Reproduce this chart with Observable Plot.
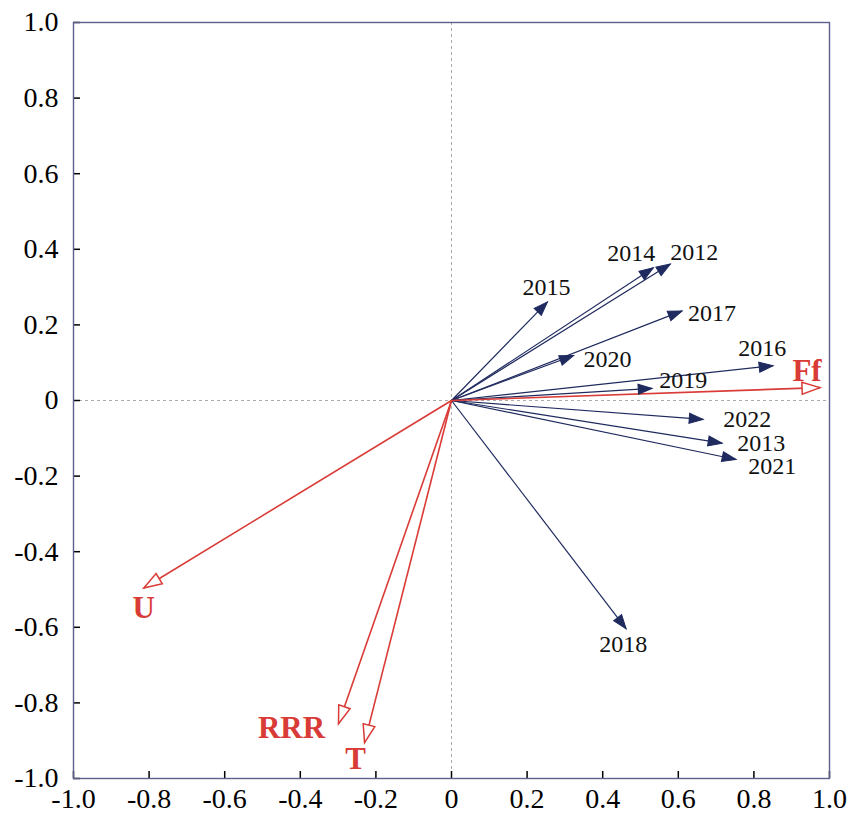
<!DOCTYPE html>
<html><head><meta charset="utf-8">
<script src="https://cdn.jsdelivr.net/npm/d3@7"></script>
<script src="https://cdn.jsdelivr.net/npm/@observablehq/plot@0.6"></script>
<style>
body{margin:0;background:#fff}
svg{display:block}
#chart svg, #chart svg text { font-family: "Liberation Serif", "Times New Roman", Times, serif !important; }
</style>
</head><body><div id="chart"></div>
<script>
// ---- data ----
const years   = ["2012","2013","2014","2015","2016","2017","2018","2019","2020","2021","2022"];
const yearX   = [0.579, 0.716, 0.534, 0.254, 0.851, 0.610, 0.462, 0.531, 0.323, 0.753, 0.666];
const yearY   = [0.361,-0.113, 0.351, 0.261, 0.092, 0.237,-0.604, 0.032, 0.119,-0.156,-0.050];
const factors = ["Ff","U","RRR","T"];
const factorX = [0.975,-0.814,-0.299,-0.230];
const factorY = [0.034,-0.496,-0.855,-0.905];
const tickValues = [-1,-0.8,-0.6,-0.4,-0.2,0,0.2,0.4,0.6,0.8,1];
const tickLabels = ["-1.0","-0.8","-0.6","-0.4","-0.2","0","0.2","0.4","0.6","0.8","1.0"];

// ---- layout / style ----
const blue = "#1f2a5e", red = "#d93b36";
const labelOffset = {
  "2012":[24,-12],"2014":[-22,-15],"2015":[-1,-15],"2017":[30,2],"2020":[34,4],
  "2016":[-11,-17],"2019":[31,-8],"2022":[44,0],"2013":[39,0],"2021":[36,7],"2018":[-3,16],
  "Ff":[-13,-17],"U":[0,20],"RRR":[-47,4],"T":[-9,16]
};
const yearRows = years.map((name,i)=>({name, x:yearX[i], y:yearY[i]}));
const factorRows = factors.map((name,i)=>({name, x:factorX[i], y:factorY[i]}));
const angle = d => Math.atan2(d.x, d.y) * 180 / Math.PI;
const head = (L, w) => ({draw(ctx){ ctx.moveTo(0,0); ctx.lineTo(-w,L); ctx.lineTo(w,L); ctx.closePath(); }});
const fmt = d => tickLabels[tickValues.indexOf(d)];

const marks = [
  Plot.ruleX([0], {stroke:"#aaa", strokeDasharray:"3,3"}),
  Plot.ruleY([0], {stroke:"#aaa", strokeDasharray:"3,3"}),
  Plot.axisX({ticks:tickValues, tickFormat:fmt, tickSize:0, tickPadding:10, fontSize:28, label:null, fill:"#000"}),
  Plot.axisX({ticks:tickValues, tickSize:-7, text:null, label:null, stroke:"#000", strokeWidth:1.5}),
  Plot.axisY({ticks:tickValues, tickFormat:fmt, tickSize:0, tickPadding:15, fontSize:28, label:null, fill:"#000"}),
  Plot.axisY({ticks:tickValues, tickSize:-7, text:null, label:null, stroke:"#000", strokeWidth:1.5}),
  Plot.link(yearRows, {x1:0, y1:0, x2:"x", y2:"y", stroke:blue, strokeWidth:1.2}),
  Plot.link(factorRows, {x1:0, y1:0, x2:"x", y2:"y", stroke:red, strokeWidth:1.6}),
  Plot.dot(yearRows, {x:"x", y:"y", rotate:angle, symbol:head(14,5), fill:blue, stroke:blue, strokeWidth:1}),
  Plot.dot(factorRows, {x:"x", y:"y", rotate:angle, symbol:head(18,6), fill:"white", stroke:red, strokeWidth:1.5}),
  ...yearRows.map(d => Plot.text([d], {x:"x", y:"y", text:"name", dx:labelOffset[d.name][0], dy:labelOffset[d.name][1],
      fontSize:24, fill:"#111", textAnchor:"middle", lineAnchor:"middle"})),
  ...factorRows.map(d => Plot.text([d], {x:"x", y:"y", text:"name", dx:labelOffset[d.name][0], dy:labelOffset[d.name][1],
      fontSize:31, fontWeight:"bold", fill:red, textAnchor:"middle", lineAnchor:"middle"})),
  Plot.frame({stroke:"#5a5f8c", strokeWidth:1.4})
];

const chart = Plot.plot({
  width:856, height:813,
  marginLeft:73, marginRight:27, marginTop:22, marginBottom:35,
  x:{domain:[-1,1]}, y:{domain:[-1,1]},
  style:{fontFamily:"Liberation Serif, Times New Roman, serif", background:"#fff", color:"#000", overflow:"visible"},
  marks
});
document.getElementById("chart").appendChild(chart);
</script>
</body></html>
